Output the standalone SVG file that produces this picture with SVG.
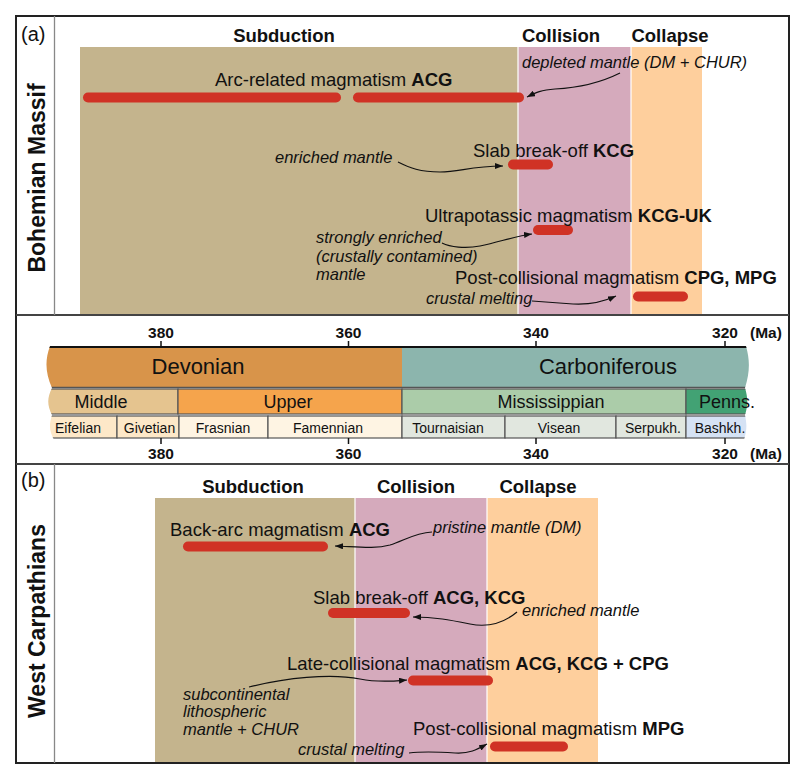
<svg xmlns="http://www.w3.org/2000/svg" width="800" height="781" viewBox="0 0 800 781">
<defs>
<style>
text{font-family:"Liberation Sans",Arial,sans-serif;fill:#111}
.hd{font-size:18.5px;font-weight:bold;text-anchor:middle}
.lb{font-size:18.5px}
.it{font-size:16.5px;font-style:italic}
.b{font-weight:bold}
.vt{font-size:23px;font-weight:bold;text-anchor:middle}
.pl{font-size:20px}
.tk{font-size:15.5px;font-weight:bold;text-anchor:middle}
.ma{font-size:15.5px;font-weight:bold}
.per{font-size:22px;text-anchor:middle}
.ep{font-size:18px;text-anchor:middle}
.st{font-size:14px;text-anchor:middle}
.bar{stroke:#d03225;stroke-width:10;stroke-linecap:round;fill:none}
.con{stroke:#111;stroke-width:1.2;fill:none;marker-end:url(#ah)}
.cell{stroke:#555;stroke-width:1.2}
.sub{fill:#c4b48d}.col{fill:#d5aabc}.clp{fill:#fecf9d}
</style>
<marker id="ah" viewBox="0 0 8 6" refX="8" refY="3" markerWidth="8" markerHeight="6" markerUnits="userSpaceOnUse" orient="auto">
<path d="M0,0 L8,3 L0,6 z" fill="#111"/>
</marker>
<clipPath id="tsclip">
<path d="M50,346 C45,360 45,372 52,388 C47,398 47,405 52,415 C49,425 49,430 54,440 L744,440 C747,430 747,425 745,415 C748,405 748,398 745,388 C750,372 750,360 746,346 Z"/>
</clipPath>
</defs>
<rect x="0" y="0" width="800" height="781" fill="#fff"/>

<!-- Panel (a) background stages -->
<g id="panel-a-stages">
<rect class="sub" x="80" y="47" width="438" height="268"/>
<rect class="col" x="518" y="47" width="113" height="268"/>
<rect class="clp" x="631" y="47" width="71" height="268"/>
<line x1="518" y1="47" x2="518" y2="315" stroke="#fff" stroke-width="1.2"/>
<line x1="631" y1="47" x2="631" y2="315" stroke="#fff" stroke-width="1.2"/>
<text class="hd" x="284" y="42">Subduction</text>
<text class="hd" x="561" y="42">Collision</text>
<text class="hd" x="670" y="42">Collapse</text>
</g>

<!-- Panel (b) background stages -->
<g id="panel-b-stages">
<rect class="sub" x="155" y="498" width="200" height="265"/>
<rect class="col" x="355" y="498" width="132" height="265"/>
<rect class="clp" x="487" y="498" width="111" height="265"/>
<line x1="355" y1="498" x2="355" y2="763" stroke="#fff" stroke-width="1.2"/>
<line x1="487" y1="498" x2="487" y2="763" stroke="#fff" stroke-width="1.2"/>
<text class="hd" x="253" y="493">Subduction</text>
<text class="hd" x="416" y="493">Collision</text>
<text class="hd" x="538" y="493">Collapse</text>
</g>

<!-- Frame -->
<g id="frame">
<rect x="16" y="16" width="773" height="747" fill="none" stroke="#222" stroke-width="2"/>
<line x1="16" y1="315" x2="789" y2="315" stroke="#444" stroke-width="2"/>
<line x1="16" y1="464" x2="789" y2="464" stroke="#444" stroke-width="2"/>
<line x1="54.5" y1="16" x2="54.5" y2="315" stroke="#888" stroke-width="1.3"/>
<line x1="54.5" y1="464" x2="54.5" y2="763" stroke="#888" stroke-width="1.3"/>
<text class="pl" x="21" y="41">(a)</text>
<text class="pl" x="21" y="487">(b)</text>
<text class="vt" transform="translate(44.5,178) rotate(-90)">Bohemian Massif</text>
<text class="vt" transform="translate(44.5,621) rotate(-90)">West Carpathians</text>
</g>

<!-- Timescale -->
<g id="timescale">
<g clip-path="url(#tsclip)">
<rect x="40" y="347" width="362" height="40" fill="#d8944a"/>
<rect x="402" y="347" width="360" height="40" fill="#8cb5ad"/>
<line x1="40" y1="347" x2="760" y2="347" stroke="#111" stroke-width="2"/>
<line x1="40" y1="387.5" x2="760" y2="387.5" stroke="#555" stroke-width="1.5"/>
<rect class="cell" x="40" y="389" width="138" height="25" fill="#e5c48f"/>
<rect class="cell" x="178" y="389" width="224" height="25" fill="#f5a44c"/>
<rect class="cell" x="402" y="389" width="284" height="25" fill="#abcca9"/>
<rect class="cell" x="686" y="389" width="74" height="25" fill="#42a274"/>
<rect class="cell" x="40" y="416" width="77" height="22" fill="#fde8c8"/>
<rect class="cell" x="117" y="416" width="62" height="22" fill="#fde8c8"/>
<rect class="cell" x="179" y="416" width="89" height="22" fill="#fef4e3"/>
<rect class="cell" x="268" y="416" width="134" height="22" fill="#fef4e3"/>
<rect class="cell" x="402" y="416" width="103" height="22" fill="#e1e7df"/>
<rect class="cell" x="505" y="416" width="111" height="22" fill="#e1e7df"/>
<rect class="cell" x="616" y="416" width="70" height="22" fill="#e1e7df"/>
<rect class="cell" x="686" y="416" width="74" height="22" fill="#d5e2f4"/>
</g>
<g stroke="#111" stroke-width="1.5">
<line x1="161" y1="341" x2="161" y2="347"/>
<line x1="348.5" y1="341" x2="348.5" y2="347"/>
<line x1="536" y1="341" x2="536" y2="347"/>
<line x1="725" y1="341" x2="725" y2="347"/>
<line x1="161" y1="438" x2="161" y2="444"/>
<line x1="348.5" y1="438" x2="348.5" y2="444"/>
<line x1="536" y1="438" x2="536" y2="444"/>
<line x1="725" y1="438" x2="725" y2="444"/>
</g>
<text class="tk" x="161" y="338">380</text>
<text class="tk" x="348.5" y="338">360</text>
<text class="tk" x="536" y="338">340</text>
<text class="tk" x="725" y="338">320</text>
<text class="ma" x="750" y="338">(Ma)</text>
<text class="tk" x="161" y="459">380</text>
<text class="tk" x="348.5" y="459">360</text>
<text class="tk" x="536" y="459">340</text>
<text class="tk" x="725" y="459">320</text>
<text class="ma" x="750" y="459">(Ma)</text>
<text class="per" x="198" y="374">Devonian</text>
<text class="per" x="608" y="374">Carboniferous</text>
<text class="ep" x="101" y="408">Middle</text>
<text class="ep" x="288" y="408">Upper</text>
<text class="ep" x="551" y="408">Mississippian</text>
<text class="ep" x="727" y="408">Penns.</text>
<text class="st" x="78" y="433">Eifelian</text>
<text class="st" x="149.5" y="433">Givetian</text>
<text class="st" x="223" y="433">Frasnian</text>
<text class="st" x="328" y="433">Famennian</text>
<text class="st" x="448" y="433">Tournaisian</text>
<text class="st" x="559" y="433">Visean</text>
<text class="st" x="653" y="433">Serpukh.</text>
<text class="st" x="720" y="433">Bashkh.</text>
</g>

<!-- Panel (a) nodes -->
<g id="a-arc">
<line class="bar" x1="88" y1="97.5" x2="336" y2="97.5"/>
<line class="bar" x1="358" y1="97.5" x2="519" y2="97.5"/>
<text class="lb" x="215" y="86">Arc-related magmatism <tspan class="b">ACG</tspan></text>
</g>
<g id="a-depleted"><text class="it" x="522" y="68">depleted mantle (DM + CHUR)</text></g>
<g id="a-slab">
<line class="bar" x1="513" y1="164.5" x2="548" y2="164.5"/>
<text class="lb" x="473" y="157">Slab break-off <tspan class="b">KCG</tspan></text>
</g>
<g id="a-enriched"><text class="it" x="275" y="163">enriched mantle</text></g>
<g id="a-ultra">
<line class="bar" x1="538" y1="230" x2="568" y2="230"/>
<text class="lb" x="425" y="222">Ultrapotassic magmatism <tspan class="b">KCG-UK</tspan></text>
</g>
<g id="a-strongly">
<text class="it" x="316" y="243">strongly enriched</text>
<text class="it" x="316" y="261.5">(crustally contamined)</text>
<text class="it" x="316" y="279.5">mantle</text>
</g>
<g id="a-post">
<line class="bar" x1="638" y1="296.5" x2="683" y2="296.5"/>
<text class="lb" x="455" y="284">Post-collisional magmatism <tspan class="b">CPG, MPG</tspan></text>
</g>
<g id="a-crustal"><text class="it" x="426" y="304">crustal melting</text></g>

<!-- Panel (b) nodes -->
<g id="b-backarc">
<line class="bar" x1="188" y1="546.5" x2="323" y2="546.5"/>
<text class="lb" x="170" y="536">Back-arc magmatism <tspan class="b">ACG</tspan></text>
</g>
<g id="b-pristine"><text class="it" x="433" y="533">pristine mantle (DM)</text></g>
<g id="b-slab">
<line class="bar" x1="333" y1="613" x2="405" y2="613"/>
<text class="lb" x="313" y="604">Slab break-off <tspan class="b">ACG, KCG</tspan></text>
</g>
<g id="b-enriched"><text class="it" x="522" y="616">enriched mantle</text></g>
<g id="b-late">
<line class="bar" x1="413" y1="680.5" x2="488" y2="680.5"/>
<text class="lb" x="287" y="670">Late-collisional magmatism <tspan class="b">ACG, KCG + CPG</tspan></text>
</g>
<g id="b-subcont">
<text class="it" x="183" y="700">subcontinental</text>
<text class="it" x="183" y="717">lithospheric</text>
<text class="it" x="183" y="735">mantle + CHUR</text>
</g>
<g id="b-post">
<line class="bar" x1="495" y1="746.5" x2="563" y2="746.5"/>
<text class="lb" x="413" y="735">Post-collisional magmatism <tspan class="b">MPG</tspan></text>
</g>
<g id="b-crustal"><text class="it" x="298" y="755">crustal melting</text></g>

<!-- Connectors -->
<g id="connectors">
<path class="con" d="M620,73 C600,83 575,88 555,89 C540,90 535,93 527,97"/>
<path class="con" d="M398,162 C410,168 420,172 440,172 C460,172 470,166 503,166"/>
<path class="con" d="M442,243 C450,247 465,249 480,246 C500,242 515,236 532,234"/>
<path class="con" d="M532,301 L573,304 C590,305 605,301 616,296"/>
<path class="con" d="M432,532 C415,533 405,540 390,545 C375,549 360,547 335,546"/>
<path class="con" d="M517,612 C505,622 490,628 470,624 C450,620 435,617 413,617"/>
<path class="con" d="M249,687 C285,678 330,673 360,679 C380,683 395,681 407,680"/>
<path class="con" d="M409,753 C425,751 440,752 455,753 C470,754 478,749 487,744"/>
</g>
</svg>
